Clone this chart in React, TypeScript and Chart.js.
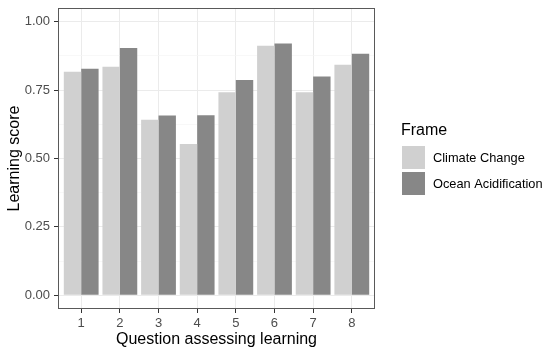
import React, { useEffect, useRef } from "react";
import { Chart, registerables } from "chart.js";

Chart.register(...registerables);

const categories = ["1", "2", "3", "4", "5", "6", "7", "8"];
const climateChange = [0.817, 0.835, 0.642, 0.553, 0.742, 0.912, 0.742, 0.843];
const oceanAcidification = [0.828, 0.904, 0.657, 0.658, 0.787, 0.92, 0.8, 0.883];
const seriesNames = ["Climate Change", "Ocean Acidification"];
const yTicks = [0, 0.125, 0.25, 0.375, 0.5, 0.625, 0.75, 0.875, 1.0];
const legendTitle = "Frame";
const xTitle = "Question assessing learning";
const yTitle = "Learning score";

const FONT = '"Liberation Sans", Arial, sans-serif';
const isMajor = (v: number) => Math.abs(v * 4 - Math.round(v * 4)) < 1e-6;

export default function App() {
  const ref = useRef<HTMLCanvasElement | null>(null);

  useEffect(() => {
    document.body.style.margin = "0";
    const canvas = ref.current!;
    const borderPlugin = {
      id: "panelBorder",
      afterDatasetsDraw(chart: any) {
        const { ctx, chartArea } = chart;
        ctx.save();
        ctx.strokeStyle = "#595959";
        ctx.lineWidth = 1;
        ctx.strokeRect(
          Math.round(chartArea.left) + 0.5,
          Math.round(chartArea.top) + 0.5,
          Math.round(chartArea.right - chartArea.left) - 1,
          Math.round(chartArea.bottom - chartArea.top) - 1
        );
        ctx.restore();
      },
    };
    const legendPlugin = {
      id: "ggLegend",
      afterDraw(chart: any) {
        const { ctx, chartArea } = chart;
        const x0 = chartArea.right + 26;
        ctx.save();
        ctx.fillStyle = "#000";
        ctx.font = `16px ${FONT}`;
        ctx.textBaseline = "alphabetic";
        ctx.textAlign = "left";
        ctx.fillText(legendTitle, x0, 135);
        chart.data.datasets.forEach((ds: any, i: number) => {
          const y = 146 + i * 26;
          ctx.fillStyle = ds.backgroundColor;
          ctx.fillRect(x0 + 1, y, 23, 23);
          ctx.fillStyle = "#000";
          ctx.font = `12.8px ${FONT}`;
          ctx.textBaseline = "middle";
          ctx.fillText(ds.label, x0 + 32, y + 12);
        });
        ctx.restore();
      },
    };

    const chart = new Chart(canvas, {
      type: "bar",
      data: {
        datasets: [
          {
            label: seriesNames[0],
            data: climateChange.map((v, i) => ({ x: i + 1, y: v })),
            backgroundColor: "#d0d0d0",
            borderWidth: 0,
          },
          {
            label: seriesNames[1],
            data: oceanAcidification.map((v, i) => ({ x: i + 1, y: v })),
            backgroundColor: "#878787",
            borderWidth: 0,
          },
        ],
      },
      options: {
        responsive: false,
        animation: false,
        maintainAspectRatio: false,
        layout: { padding: { top: 8, right: 175, left: 0, bottom: 0 } },
        datasets: { bar: { barPercentage: 1, categoryPercentage: 0.9 } },
        plugins: {
          legend: { display: false },
          tooltip: { enabled: false },
        },
        scales: {
          x: {
            type: "linear",
            min: 0.4,
            max: 8.6,
            offset: false,
            afterBuildTicks: (scale: any) => {
              scale.ticks = categories.map((_, i) => ({ value: i + 1 }));
            },
            afterFit: (scale: any) => {
              scale.height = 45;
              scale.paddingLeft = 0;
              scale.paddingRight = 0;
            },
            border: { display: false },
            grid: {
              offset: false,
              color: "#ebebeb",
              lineWidth: 1,
              drawTicks: true,
              tickLength: 4,
              tickColor: "#333333",
            },
            ticks: {
              autoSkip: false,
              maxRotation: 0,
              padding: 3,
              color: "#4d4d4d",
              font: { family: FONT, size: 13 },
              callback: (v: any) => categories[Math.round(Number(v)) - 1] ?? "",
            },
            title: {
              display: true,
              text: xTitle,
              color: "#000",
              font: { family: FONT, size: 16 },
              padding: { top: 0, bottom: 5 },
            },
          },
          y: {
            type: "linear",
            min: -0.05,
            max: 1.05,
            afterBuildTicks: (scale: any) => {
              scale.ticks = yTicks.map((v) => ({ value: v }));
            },
            afterFit: (scale: any) => {
              scale.width = 58;
              scale.paddingTop = 0;
              scale.paddingBottom = 0;
            },
            border: { display: false },
            grid: {
              color: (c: any) => (c.tick && isMajor(c.tick.value) ? "#ebebeb" : "#f5f5f5"),
              lineWidth: (c: any) => (c.tick && isMajor(c.tick.value) ? 1 : 0.7),
              drawTicks: true,
              tickLength: 4,
              tickColor: (c: any) => (c.tick && isMajor(c.tick.value) ? "#333333" : "rgba(0,0,0,0)"),
            },
            ticks: {
              autoSkip: false,
              padding: 4,
              color: "#4d4d4d",
              font: { family: FONT, size: 13 },
              callback: (v: any) => (isMajor(Number(v)) ? Number(v).toFixed(2) : ""),
            },
            title: {
              display: true,
              text: yTitle,
              color: "#000",
              font: { family: FONT, size: 16 },
              padding: { top: 5, bottom: 0 },
            },
          },
        },
      },
      plugins: [borderPlugin, legendPlugin],
    } as any);
    return () => chart.destroy();
  }, []);

  return <canvas ref={ref} width={550} height={354} style={{ display: "block" }} />;
}
